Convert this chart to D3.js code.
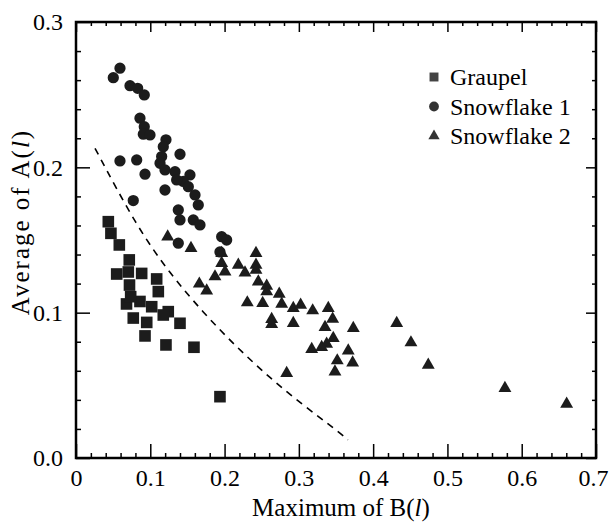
<!DOCTYPE html>
<html>
<head>
<meta charset="utf-8">
<script src="https://cdn.jsdelivr.net/npm/d3@7"></script>
<style>
  html, body { margin: 0; padding: 0; background: #fff; }
  svg text { font-family: "Liberation Serif", "Times New Roman", Times, "DejaVu Serif", serif !important; }
</style>
</head>
<body>
<svg id="chart" width="609" height="525"></svg>
<script>
// Graupel: [max B(l), average A(l)]
const graupel = [
  [0.0435, 0.1626], [0.047, 0.1546], [0.0583, 0.1466], [0.0717, 0.1363],
  [0.0548, 0.1266], [0.0704, 0.128], [0.0884, 0.127], [0.1086, 0.1232],
  [0.072, 0.119], [0.1108, 0.1145], [0.068, 0.106], [0.0861, 0.1077],
  [0.1019, 0.1041], [0.1242, 0.1007], [0.0771, 0.0963], [0.0952, 0.0933],
  [0.1175, 0.0984], [0.14, 0.0927], [0.0929, 0.084], [0.1211, 0.0778],
  [0.1588, 0.0762], [0.1938, 0.0422], [0.0736, 0.111]
];

// Snowflake 1
const snowflake1 = [
  [0.0592, 0.2682], [0.0502, 0.2617], [0.0727, 0.2562], [0.083, 0.2544],
  [0.0919, 0.2498], [0.0861, 0.2338], [0.0919, 0.228], [0.0906, 0.2228],
  [0.0996, 0.2223], [0.1211, 0.2189], [0.1175, 0.2142], [0.0592, 0.2044],
  [0.0817, 0.2051], [0.14, 0.209], [0.1153, 0.2074], [0.1131, 0.2028],
  [0.1198, 0.1982], [0.1333, 0.197], [0.1534, 0.1948], [0.0929, 0.1953],
  [0.1444, 0.1903], [0.1355, 0.1913], [0.1512, 0.1867], [0.1198, 0.1844],
  [0.1602, 0.181], [0.1646, 0.1741], [0.0771, 0.1771], [0.1377, 0.1707],
  [0.14, 0.1638], [0.1579, 0.1638], [0.1669, 0.1604], [0.1377, 0.1478],
  [0.1961, 0.1523], [0.2028, 0.15], [0.1938, 0.1418]
];

// Snowflake 2
const snowflake2 = [
  [0.1234, 0.1523], [0.1548, 0.1443], [0.166, 0.1198], [0.1759, 0.1151],
  [0.1871, 0.1248], [0.1961, 0.1409], [0.1961, 0.134], [0.2006, 0.1282],
  [0.2185, 0.1328], [0.2275, 0.1275], [0.2423, 0.1409], [0.2423, 0.1328],
  [0.2423, 0.1294], [0.2454, 0.1213], [0.2567, 0.1184], [0.2567, 0.1145],
  [0.2736, 0.1129], [0.2769, 0.106], [0.2306, 0.1069], [0.2513, 0.1065],
  [0.2925, 0.103], [0.3024, 0.1053], [0.3186, 0.1014], [0.3396, 0.103],
  [0.3455, 0.0957], [0.2634, 0.0955], [0.2634, 0.092], [0.2925, 0.0927],
  [0.3352, 0.09], [0.3733, 0.0893], [0.3463, 0.0824], [0.3374, 0.0785],
  [0.3307, 0.0762], [0.3173, 0.0748], [0.3665, 0.0738], [0.3517, 0.067],
  [0.3724, 0.0656], [0.3486, 0.0594], [0.2836, 0.0583], [0.4317, 0.0927],
  [0.4509, 0.0794], [0.4742, 0.064], [0.5774, 0.048], [0.6605, 0.0372]
];

// Dashed boundary curve
const boundary = [
  [0.0256, 0.2131], [0.0817, 0.1592], [0.1265, 0.1269], [0.1713, 0.1],
  [0.2163, 0.0762], [0.2611, 0.0551], [0.306, 0.0362], [0.3509, 0.0191],
  [0.366, 0.0125]
];

const xTickLabels = ["0", "0.1", "0.2", "0.3", "0.4", "0.5", "0.6", "0.7"];
const yTickLabels = ["0.0", "0.1", "0.2", "0.3"];
const legendNames = ["Graupel", "Snowflake 1", "Snowflake 2"];
// axis titles: plain part, italic variable, closing bracket
const xTitleParts = ["Maximum of B(", "l", ")"];
const yTitleParts = ["Average of A(", "l", ")"];

const svg = d3.select("#chart");
const plotLeft = 76, plotRight = 596, plotTop = 22, plotBottom = 458;

const x = d3.scaleLinear().domain([0, 0.7]).range([plotLeft, plotRight]);
const y = d3.scaleLinear().domain([0, 0.3]).range([plotBottom, plotTop]);

const xMajor = xTickLabels.map(Number);
const yMajor = yTickLabels.map(Number);
const xMinor = d3.range(0, 0.7001, 0.02).filter(v => !xMajor.some(m => Math.abs(m - v) < 1e-6));
const yMinor = d3.range(0, 0.3001, 0.02).filter(v => !yMajor.some(m => Math.abs(m - v) < 1e-6));

const fontSize = 24;

function styleAxis(g) {
  g.select(".domain").remove();
  g.attr("font-family", null);
  g.selectAll(".tick line").attr("stroke", "#000").attr("stroke-width", 1.5);
  g.selectAll("text").attr("font-size", fontSize).attr("fill", "#000");
}

// bottom axis: major ticks with labels, minor ticks inward
svg.append("g").attr("transform", `translate(0,${plotBottom})`)
  .call(d3.axisBottom(x).tickValues(xMajor).tickSize(-14).tickPadding(9)
    .tickFormat((d, i) => xTickLabels[i]))
  .call(styleAxis)
  .call(g => g.selectAll("text").attr("dy", "0.8em")
    .attr("dx", (d, i) => i === xTickLabels.length - 1 ? -3 : 0));
svg.append("g").attr("transform", `translate(0,${plotBottom})`)
  .call(d3.axisBottom(x).tickValues(xMinor).tickSize(-5).tickFormat(""))
  .call(styleAxis);

// left axis
svg.append("g").attr("transform", `translate(${plotLeft},0)`)
  .call(d3.axisLeft(y).tickValues(yMajor).tickSize(-14).tickPadding(13)
    .tickFormat((d, i) => yTickLabels[i]))
  .call(styleAxis);
svg.append("g").attr("transform", `translate(${plotLeft},0)`)
  .call(d3.axisLeft(y).tickValues(yMinor).tickSize(-5).tickFormat(""))
  .call(styleAxis);

// right axis ticks
svg.append("g").attr("transform", `translate(${plotRight},0)`)
  .call(d3.axisRight(y).tickValues(yMajor).tickSize(-10).tickFormat(""))
  .call(styleAxis);
svg.append("g").attr("transform", `translate(${plotRight},0)`)
  .call(d3.axisRight(y).tickValues(yMinor).tickSize(-4).tickFormat(""))
  .call(styleAxis);

// top axis ticks
svg.append("g").attr("transform", `translate(0,${plotTop})`)
  .call(d3.axisTop(x).tickValues(xMajor).tickSize(-10).tickFormat(""))
  .call(styleAxis);
svg.append("g").attr("transform", `translate(0,${plotTop})`)
  .call(d3.axisTop(x).tickValues(xMinor).tickSize(-4).tickFormat(""))
  .call(styleAxis);

// frame
svg.append("rect")
  .attr("x", plotLeft).attr("y", plotTop)
  .attr("width", plotRight - plotLeft).attr("height", plotBottom - plotTop)
  .attr("fill", "none").attr("stroke", "#000").attr("stroke-width", 2.5);

// dashed curve
svg.append("path")
  .datum(boundary)
  .attr("fill", "none").attr("stroke", "#000").attr("stroke-width", 1.6)
  .attr("stroke-dasharray", "7,6")
  .attr("d", d3.line().x(d => x(d[0])).y(d => y(d[1])).curve(d3.curveBasis));

const markFill = "#1c1c1c";
const symbols = [
  d3.symbol().type(d3.symbolSquare).size(135),
  d3.symbol().type(d3.symbolCircle).size(100),
  d3.symbol().type(d3.symbolTriangle).size(72)
];
const series = [graupel, snowflake1, snowflake2];

series.forEach((data, si) => {
  svg.append("g").selectAll("path")
    .data(data)
    .join("path")
    .attr("d", symbols[si])
    .attr("transform", d => `translate(${x(d[0])},${y(d[1])})`)
    .attr("fill", markFill);
});

// legend
const legendSymbols = [
  d3.symbol().type(d3.symbolSquare).size(80),
  d3.symbol().type(d3.symbolCircle).size(75),
  d3.symbol().type(d3.symbolTriangle).size(55)
];
const legend = svg.append("g");
legendNames.forEach((name, i) => {
  const cy = 77 + i * 29.5;
  legend.append("path")
    .attr("d", legendSymbols[i])
    .attr("transform", `translate(434,${cy})`)
    .attr("fill", i === 0 ? "#444" : "#333");
  legend.append("text")
    .attr("x", 450).attr("y", cy)
    .attr("dy", "0.35em")
    .attr("font-size", fontSize)
    .text(name);
});

// Lays out title pieces side by side (middle one italic), centred on 0.
function titleRow(g, parts, size, spacing) {
  const nodes = parts.map((p, i) => g.append("text")
    .attr("font-size", size)
    .attr("letter-spacing", spacing)
    .attr("font-style", i === 1 ? "italic" : "normal")
    .text(p));
  const widths = nodes.map(n => n.node().getComputedTextLength());
  const total = d3.sum(widths);
  let cx = -total / 2;
  nodes.forEach((n, i) => { n.attr("x", cx); cx += widths[i]; });
}

titleRow(svg.append("g").attr("transform", `translate(${(plotLeft + plotRight) / 2 + 5},516)`),
  xTitleParts, 25, 0);
titleRow(svg.append("g").attr("transform", "translate(29,222) rotate(-90)"),
  yTitleParts, 25, 2);
</script>
</body>
</html>
